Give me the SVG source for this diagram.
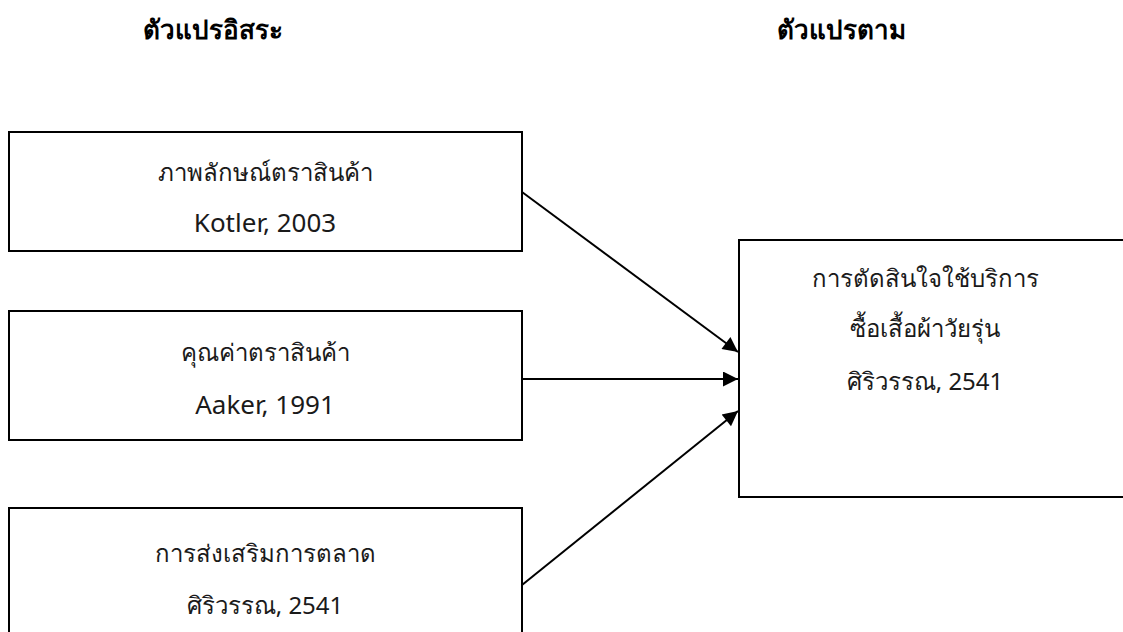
<svg xmlns="http://www.w3.org/2000/svg" width="1123" height="632" viewBox="0 0 1123 632">
<style>
.box{fill:#fff;stroke:#000;stroke-width:2}
.t{font-family:"Noto Sans",sans-serif;font-size:24px;fill:#1a1a1a;text-anchor:middle}
.l{font-size:26px}
.h{font-family:"Noto Sans",sans-serif;font-size:26px;font-weight:bold;fill:#000;text-anchor:middle}
.c{stroke:#000;stroke-width:2;fill:none}
</style>
<defs>
<marker id="arr" viewBox="0 0 10 10" refX="10" refY="5" markerWidth="9" markerHeight="7.5" markerUnits="strokeWidth" orient="auto">
<path d="M0,0 L10,5 L0,10 z" fill="#000"/>
</marker>
</defs>
<rect width="1123" height="632" fill="#fff"/>
<text class="h" x="213" y="39">ตัวแปรอิสระ</text>
<text class="h" x="841" y="39">ตัวแปรตาม</text>
<g id="connectors">
<line class="c" x1="522" y1="192" x2="738" y2="352" marker-end="url(#arr)"/>
<line class="c" x1="522" y1="379" x2="738" y2="379" marker-end="url(#arr)"/>
<line class="c" x1="522" y1="585" x2="738" y2="411" marker-end="url(#arr)"/>
</g>
<g id="n1">
<rect class="box" x="9" y="132" width="513" height="119"/>
<text class="t" x="265" y="181">ภาพลักษณ์ตราสินค้า</text>
<text class="t l" x="265" y="232">Kotler, 2003</text>
</g>
<g id="n2">
<rect class="box" x="9" y="311" width="513" height="129"/>
<text class="t" x="265" y="361">คุณค่าตราสินค้า</text>
<text class="t l" x="265" y="414">Aaker, 1991</text>
</g>
<g id="n3">
<rect class="box" x="9" y="508" width="513" height="140"/>
<text class="t" x="265" y="562">การส่งเสริมการตลาด</text>
<text class="t" x="265" y="614">ศิริวรรณ, 2541</text>
</g>
<g id="n4">
<rect class="box" x="739" y="240" width="400" height="257"/>
<text class="t" x="925" y="287">การตัดสินใจใช้บริการ</text>
<text class="t" x="925" y="337">ซื้อเสื้อผ้าวัยรุ่น</text>
<text class="t" x="925" y="390">ศิริวรรณ, 2541</text>
</g>
</svg>
